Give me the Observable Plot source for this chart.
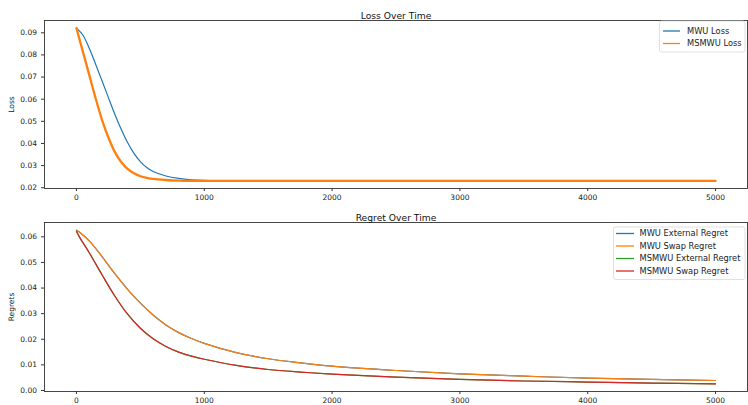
<!DOCTYPE html>
<html>
<head>
<meta charset="utf-8">
<script src="https://cdn.jsdelivr.net/npm/d3@7"></script>
<script src="https://cdn.jsdelivr.net/npm/@observablehq/plot@0.6"></script>
<style>
  body { margin: 0; background: #fff; }
  #wrap { position: relative; width: 748px; height: 405px; overflow: hidden; font-family: "DejaVu Sans", sans-serif; }
  #wrap > svg, #wrap > div { position: absolute; left: 0; }
  #legend { position: absolute; left: 0; top: 0; pointer-events: none; }
</style>
</head>
<body>
<div id="wrap"></div>
<script>
// ---------- Data: Loss Over Time ----------
const lossT      = [0, 50, 100, 150, 200, 250, 300, 350, 400, 450, 500, 550, 600, 700, 800, 900, 1000, 1200, 1500, 2000, 3000, 4000, 5000];
const mwuLoss    = [0.0921, 0.0890, 0.0830, 0.0758, 0.0683, 0.0607, 0.0532, 0.0464, 0.0404, 0.0355, 0.0318, 0.0291, 0.0273, 0.0253, 0.0242, 0.0236, 0.0233, 0.0231, 0.0231, 0.0231, 0.0231, 0.0231, 0.0231];
const msmwuLoss  = [0.0921, 0.0815, 0.0710, 0.0604, 0.0507, 0.0427, 0.0362, 0.0316, 0.0285, 0.0265, 0.0252, 0.0245, 0.0240, 0.0235, 0.0232, 0.0231, 0.0231, 0.0231, 0.0231, 0.0231, 0.0231, 0.0231, 0.0231];

// ---------- Data: Regret Over Time ----------
const regretT          = [0, 25, 100, 200, 300, 400, 500, 600, 700, 800, 900, 1000, 1250, 1500, 1750, 2000, 2500, 3000, 3500, 4000, 4500, 5000];
const mwuExtRegret     = [0.0626, 0.0618, 0.0584, 0.0523, 0.0456, 0.0395, 0.0341, 0.0295, 0.0256, 0.0226, 0.0203, 0.0184, 0.0148, 0.0124, 0.0108, 0.0095, 0.0078, 0.0065, 0.0056, 0.0048, 0.0043, 0.0039];
const mwuSwapRegret    = [0.0626, 0.0618, 0.0584, 0.0523, 0.0456, 0.0395, 0.0341, 0.0295, 0.0256, 0.0226, 0.0203, 0.0184, 0.0148, 0.0124, 0.0108, 0.0095, 0.0078, 0.0065, 0.0056, 0.0048, 0.0043, 0.0039];
const msmwuExtRegret   = [0.0622, 0.0598, 0.0538, 0.0452, 0.0369, 0.0298, 0.0243, 0.0202, 0.0172, 0.0150, 0.0134, 0.0122, 0.0098, 0.0082, 0.0072, 0.0064, 0.0052, 0.0043, 0.0037, 0.0033, 0.0029, 0.0026];
const msmwuSwapRegret  = [0.0622, 0.0598, 0.0538, 0.0452, 0.0369, 0.0298, 0.0243, 0.0202, 0.0172, 0.0150, 0.0134, 0.0122, 0.0098, 0.0082, 0.0072, 0.0064, 0.0052, 0.0043, 0.0037, 0.0033, 0.0029, 0.0026];

// ---------- Ticks / labels ----------
const xTicks      = [0, 1000, 2000, 3000, 4000, 5000];
const lossTicks   = [0.02, 0.03, 0.04, 0.05, 0.06, 0.07, 0.08, 0.09];
const regretTicks = [0.00, 0.01, 0.02, 0.03, 0.04, 0.05, 0.06];
const lossSeries   = ["MWU Loss", "MSMWU Loss"];
const regretSeries = ["MWU External Regret", "MWU Swap Regret", "MSMWU External Regret", "MSMWU Swap Regret"];
const colors = ["#1f77b4", "#ff7f0e", "#2ca02c", "#d62728"];

// ---------- Build tables ----------
const lossData = [];
[mwuLoss, msmwuLoss].forEach((arr, i) => arr.forEach((v, j) => lossData.push({t: lossT[j], v, s: lossSeries[i]})));
const regretData = [];
[mwuExtRegret, mwuSwapRegret, msmwuExtRegret, msmwuSwapRegret].forEach((arr, i) =>
  arr.forEach((v, j) => regretData.push({t: regretT[j], v, s: regretSeries[i]})));

function pad(vals) {
  const lo = d3.min(vals), hi = d3.max(vals), m = (hi - lo) * 0.05;
  return [lo - m, hi + m];
}
const xDomain = pad([0, 5000]);

const W = 748;
const common = (h, yDomain, yTicks, yLabel, title, marks) => Plot.plot({
  width: W, height: h,
  marginLeft: 44, marginRight: 1, marginTop: 20, marginBottom: 14,
  style: {fontFamily: "DejaVu Sans, sans-serif", fontSize: "7.5px", color: "#222", background: "white", overflow: "visible"},
  x: {domain: xDomain},
  y: {domain: yDomain},
  marks: [
    ...marks,
    Plot.frame({stroke: "#333", strokeWidth: 0.9}),
    Plot.axisX({ticks: xTicks, tickSize: 3, tickPadding: 3, tickFormat: d => String(d), label: null, stroke: "#333"}),
    Plot.axisY({ticks: yTicks, tickSize: 3, tickPadding: 4.5, tickFormat: ".2f", label: yLabel, labelAnchor: "center", labelArrow: "none", labelOffset: 36, stroke: "#333"}),
    Plot.text([title], {frameAnchor: "top", dy: -8.3, fontSize: 9.2, fill: "#111"})
  ]
});

const p1 = common(202, pad([...mwuLoss, ...msmwuLoss]), lossTicks, "Loss", "Loss Over Time", [
  Plot.line(lossData.filter(d => d.s === lossSeries[0]), {x: "t", y: "v", stroke: colors[0], strokeWidth: 1.2, curve: "catmull-rom"}),
  Plot.line(lossData.filter(d => d.s === lossSeries[1]), {x: "t", y: "v", stroke: colors[1], strokeWidth: 2.3, curve: "catmull-rom"})
]);
p1.style.top = "0px";

const p2 = common(203, pad([...mwuExtRegret, ...mwuSwapRegret, ...msmwuExtRegret, ...msmwuSwapRegret]), regretTicks, "Regrets", "Regret Over Time",
  regretSeries.map((s, i) => Plot.line(regretData.filter(d => d.s === s), {x: "t", y: "v", stroke: colors[i], strokeWidth: 1.2, curve: "catmull-rom"}))
);
p2.style.top = "202px";

const wrap = document.getElementById("wrap");
wrap.appendChild(p1);
wrap.appendChild(p2);

// ---------- Legends (overlay) ----------
const svg = d3.select(wrap).append("svg").attr("id", "legend").attr("width", W).attr("height", 405);
function legend(x, y, w, h, names, cols, lineX, textX, rowY) {
  svg.append("rect").attr("x", x).attr("y", y).attr("width", w).attr("height", h).attr("rx", 2)
    .attr("fill", "rgba(255,255,255,0.8)").attr("stroke", "#d8d8d8").attr("stroke-width", 0.8);
  names.forEach((n, i) => {
    const yy = rowY[i];
    svg.append("line").attr("x1", lineX[0]).attr("x2", lineX[1]).attr("y1", yy).attr("y2", yy)
      .attr("stroke", cols[i]).attr("stroke-width", 1.3);
    svg.append("text").attr("x", textX).attr("y", yy).attr("dy", "0.35em")
      .attr("font-family", "DejaVu Sans, sans-serif").attr("font-size", 8.3).attr("fill", "#222").text(n);
  });
}
legend(659.5, 21, 85.5, 31, lossSeries, colors.slice(0, 2), [663, 680], 687, [31, 43.5]);
legend(613.5, 227, 131.5, 52.5, regretSeries, colors, [616, 634], 639.5, [233.5, 246, 258.5, 271]);
</script>
</body>
</html>
